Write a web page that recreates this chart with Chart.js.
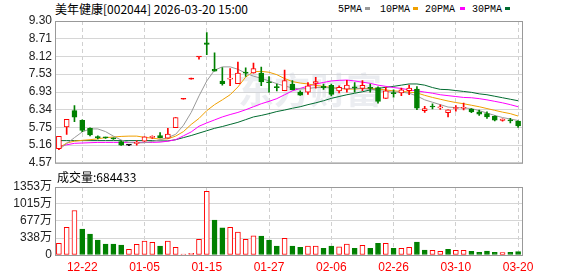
<!DOCTYPE html>
<html>
<head>
<meta charset="utf-8">
<script src="https://cdn.jsdelivr.net/npm/chart.js@4.4.1/dist/chart.umd.min.js"></script>
<style>
  body { margin: 0; background: #fff; width: 578px; height: 276px; position: relative; overflow: hidden; }
  canvas { position: absolute; left: 0; }
  #kline { top: 0; }
  #vol { top: 168px; }
  .txt { position: absolute; font-family: "Noto Sans CJK SC", sans-serif; font-size: 12px; line-height: 14px; color: #000; white-space: nowrap; }
  #title { left: 55px; top: 2px; }
  #volTitle { left: 57px; top: 170px; }
  .lg { position: absolute; top: 4px; font: 10px "Liberation Mono", monospace; line-height: 12px; color: #000; }
  .sw { position: absolute; top: 7px; width: 5px; height: 3px; }
</style>
</head>
<body>
<div id="title" class="txt">美年健康[002044] 2026-03-20 15:00</div>
<span class="lg" style="left:338px">5PMA</span><span class="sw" style="left:365px;background:#999999"></span>
<span class="lg" style="left:380px">10PMA</span><span class="sw" style="left:413px;background:#f0a000"></span>
<span class="lg" style="left:425px">20PMA</span><span class="sw" style="left:460px;background:#ff00ff"></span>
<span class="lg" style="left:472px">30PMA</span><span class="sw" style="left:505px;background:#006b30"></span>
<canvas id="kline" width="578" height="173"></canvas>
<div id="volTitle" class="txt">成交量:684433</div>
<canvas id="vol" width="578" height="108"></canvas>
<script>
// trading days shown on the chart
const dates = [
  '12-17','12-18','12-19','12-22','12-23','12-24','12-25','12-26','12-29','12-30','12-31',
  '01-05','01-06','01-07','01-08','01-09','01-12','01-13','01-14','01-15','01-16',
  '01-19','01-20','01-21','01-22','01-23','01-26','01-27','01-28','01-29','01-30',
  '02-02','02-03','02-04','02-05','02-06','02-09','02-10','02-11','02-12','02-13',
  '02-24','02-25','02-26','02-27',
  '03-02','03-03','03-04','03-05','03-06','03-09','03-10','03-11','03-12','03-13',
  '03-16','03-17','03-18','03-19','03-20'
];
const shownDates = ['12-22', '01-05', '01-15', '01-27', '02-06', '02-26', '03-10', '03-20'];

const openP = [
  5.04, 5.77, 6.31, 5.99, 5.72, 5.42, 5.41, 5.38, 5.28, 5.16,
  5.22, 5.29, 5.42, 5.48, 5.39, 5.74, 6.69, 7.36, 8.10, 8.57,
  7.69, 7.30, 7.36, 7.21, 7.58, 7.57, 7.56, 7.26, 7.10, 6.98,
  7.20, 6.93, 6.93, 7.22, 7.12, 7.15, 6.97, 7.03, 7.10, 7.05,
  7.08, 7.08, 6.72, 6.90, 6.90, 6.98, 7.03, 6.31, 6.46, 6.40,
  6.24, 6.38, 6.39, 6.35, 6.27, 6.21, 6.12, 5.98, 6.00, 5.96
];
const highP = [
  5.45, 6.02, 6.48, 6.00, 5.74, 5.47, 5.43, 5.40, 5.30, 5.17,
  5.30, 5.44, 5.47, 5.58, 5.72, 6.08, 6.69, 7.36, 8.10, 8.91,
  8.24, 7.75, 7.71, 7.93, 7.74, 7.90, 7.76, 7.45, 7.20, 7.66,
  7.31, 6.97, 7.25, 7.42, 7.20, 7.20, 7.14, 7.32, 7.25, 7.31,
  7.20, 7.10, 7.09, 7.00, 7.06, 7.16, 7.11, 6.45, 6.54, 6.50,
  6.34, 6.48, 6.56, 6.38, 6.33, 6.27, 6.14, 6.04, 6.05, 5.97
];
const lowP = [
  5.01, 5.52, 5.94, 5.61, 5.47, 5.37, 5.38, 5.35, 5.15, 5.14,
  5.16, 5.28, 5.38, 5.40, 5.39, 5.74, 6.69, 7.36, 8.03, 8.18,
  7.63, 7.16, 7.14, 7.21, 7.45, 7.56, 7.14, 6.93, 6.97, 6.98,
  7.00, 6.82, 6.85, 7.06, 7.02, 6.80, 6.90, 6.93, 6.93, 6.98,
  6.93, 6.56, 6.72, 6.76, 6.81, 6.84, 6.34, 6.25, 6.37, 6.35,
  6.10, 6.29, 6.33, 6.24, 6.15, 6.05, 5.97, 5.96, 5.90, 5.75
];
const closeP = [
  5.45, 6.02, 6.09, 5.65, 5.50, 5.41, 5.40, 5.37, 5.16, 5.16,
  5.24, 5.44, 5.45, 5.41, 5.53, 6.08, 6.69, 7.36, 8.10, 8.52,
  7.63, 7.21, 7.40, 7.56, 7.56, 7.71, 7.27, 7.24, 7.08, 7.31,
  7.01, 6.83, 7.14, 7.28, 7.08, 6.85, 7.09, 7.16, 7.07, 7.15,
  7.05, 6.62, 6.97, 6.88, 7.00, 7.06, 6.39, 6.38, 6.43, 6.43,
  6.34, 6.40, 6.40, 6.27, 6.19, 6.10, 5.99, 6.03, 5.97, 5.80
];
// volume in 万
const volume = [
  232, 549, 885, 515, 416, 297, 218, 218, 198, 113,
  211, 277, 251, 178, 277, 152, 20, 33, 311, 1268,
  693, 541, 549, 456, 311, 383, 376, 297, 178, 330,
  178, 152, 178, 178, 133, 178, 165, 218, 133, 192,
  133, 232, 232, 133, 133, 152, 258, 99, 93, 73,
  113, 93, 93, 73, 53, 79, 53, 46, 53, 68.4
];
const ma5 = [
  5.01, 5.21, 5.41, 5.60, 5.70, 5.70, 5.61, 5.46, 5.33, 5.25,
  5.23, 5.24, 5.28, 5.34, 5.41, 5.52, 5.82, 6.25, 6.80, 7.30,
  7.66, 7.77, 7.77, 7.69, 7.56, 7.46, 7.39, 7.30, 7.21, 7.13,
  7.07, 7.03, 7.05, 7.08, 7.08, 7.07, 7.05, 7.05, 7.05, 7.05,
  7.02, 6.98, 6.95, 6.93, 6.93, 6.89, 6.80, 6.67, 6.59, 6.51,
  6.43, 6.41, 6.40, 6.38, 6.31, 6.23, 6.15, 6.08, 6.03, 5.98
];
const ma10 = [
  5.06, 5.23, 5.29, 5.32, 5.34, 5.37, 5.41, 5.43, 5.45, 5.46,
  5.46, 5.42, 5.39, 5.36, 5.37, 5.46, 5.61, 5.85, 6.05, 6.31,
  6.51, 6.67, 6.84, 7.10, 7.43, 7.61, 7.62, 7.59, 7.51, 7.38,
  7.28, 7.23, 7.20, 7.15, 7.12, 7.08, 7.05, 7.03, 7.03, 7.05,
  7.05, 7.03, 7.00, 6.97, 6.95, 6.93, 6.90, 6.82, 6.75, 6.69,
  6.63, 6.58, 6.54, 6.49, 6.44, 6.38, 6.32, 6.26, 6.21, 6.13
];
const ma20 = [
  5.12, 5.17, 5.22, 5.23, 5.24, 5.25, 5.25, 5.25, 5.25, 5.25,
  5.25, 5.25, 5.25, 5.26, 5.29, 5.34, 5.47, 5.60, 5.79, 5.90,
  6.00, 6.10, 6.18, 6.25, 6.34, 6.44, 6.54, 6.62, 6.71, 6.84,
  6.97, 7.05, 7.13, 7.20, 7.25, 7.30, 7.32, 7.33, 7.30, 7.26,
  7.22, 7.16, 7.12, 7.08, 7.05, 7.00, 6.97, 6.93, 6.89, 6.84,
  6.81, 6.78, 6.75, 6.74, 6.71, 6.67, 6.62, 6.57, 6.51, 6.44
];
const ma30 = [
  5.31, 5.31, 5.31, 5.31, 5.31, 5.31, 5.31, 5.31, 5.31, 5.31,
  5.31, 5.31, 5.31, 5.30, 5.30, 5.34, 5.41, 5.48, 5.56, 5.64,
  5.72, 5.78, 5.85, 5.92, 6.01, 6.10, 6.15, 6.21, 6.28, 6.33,
  6.39, 6.44, 6.51, 6.57, 6.64, 6.72, 6.78, 6.84, 6.89, 6.94,
  7.00, 7.05, 7.09, 7.12, 7.16, 7.20, 7.20, 7.16, 7.08, 7.02,
  7.01, 6.98, 6.95, 6.92, 6.87, 6.84, 6.79, 6.74, 6.69, 6.64
];
const priceTicks = [4.57, 5.16, 5.75, 6.34, 6.93, 7.53, 8.12, 8.71, 9.30];
const volTicks = [0, 338, 677, 1015, 1353];

const RED = '#ff0000';
const GREEN = '#008000';

function candleColor(i) {
  if (closeP[i] > openP[i]) return RED;
  if (closeP[i] < openP[i]) return GREEN;
  const prev = i > 0 ? closeP[i - 1] : openP[i];
  if (closeP[i] > prev) return RED;
  if (closeP[i] < prev) return GREEN;
  return '#000000';
}
function bodyFill(i) {
  return closeP[i] > openP[i] ? '#ffffff' : candleColor(i);
}
function volColor(i) {
  return i === 0 || closeP[i] >= closeP[i - 1] ? RED : GREEN;
}

const dateGrid = c => shownDates.includes(dates[c.index]) ? '#d0d0d0' : 'rgba(0,0,0,0)';

// grey box round the plot area
const frame = {
  id: 'frame',
  beforeDatasetsDraw(chart) {
    const { ctx, chartArea: a } = chart;
    ctx.save();
    ctx.strokeStyle = '#999999';
    ctx.lineWidth = 1;
    ctx.strokeRect(a.left + 0.5, a.top + 0.5, a.right - a.left, a.bottom - a.top);
    ctx.restore();
  }
};

const watermark = {
  id: 'watermark',
  beforeDatasetsDraw(chart) {
    const ctx = chart.ctx;
    ctx.save();
    ctx.fillStyle = 'rgba(205,210,220,0.4)';
    ctx.font = 'bold 36px "Noto Sans CJK SC"';
    ctx.textAlign = 'center';
    ctx.textBaseline = 'middle';
    ctx.fillText('东方财富', 310, 90);
    ctx.restore();
  }
};

const maLine = (label, data, color) => ({
  type: 'line',
  label: label,
  data: data,
  borderColor: color,
  borderWidth: 1,
  pointRadius: 0,
  tension: 0,
  order: 3
});

new Chart(document.getElementById('kline'), {
  type: 'bar',
  data: {
    labels: dates,
    datasets: [
      maLine('MA5', ma5, '#999999'),
      maLine('MA10', ma10, '#f0a000'),
      maLine('MA20', ma20, '#ff00ff'),
      maLine('MA30', ma30, '#006b30'),
      {
        label: 'wick',
        data: dates.map((d, i) => [lowP[i], highP[i]]),
        backgroundColor: c => candleColor(c.dataIndex),
        barThickness: 1,
        minBarLength: 1,
        grouped: false,
        order: 2
      },
      {
        label: 'body',
        data: dates.map((d, i) => [openP[i], closeP[i]]),
        backgroundColor: c => bodyFill(c.dataIndex),
        borderColor: c => candleColor(c.dataIndex),
        borderWidth: 1,
        borderSkipped: false,
        barThickness: 5,
        minBarLength: 1,
        grouped: false,
        order: 1
      }
    ]
  },
  options: {
    responsive: false,
    animation: false,
    layout: { padding: { left: 0, top: 21, right: 56, bottom: 8 } },
    plugins: { legend: { display: false }, tooltip: { enabled: false } },
    scales: {
      x: {
        offset: true,
        grid: { offset: false, drawTicks: false, color: dateGrid },
        border: { display: false, dash: [4, 3] },
        ticks: { display: false },
        afterFit: s => { s.height = 0; }
      },
      y: {
        min: 4.57,
        max: 9.30,
        afterBuildTicks: s => { s.ticks = priceTicks.map(v => ({ value: v })); },
        afterFit: s => { s.width = 55; },
        grid: { color: '#d6d6d6', drawTicks: false },
        border: { display: false },
        ticks: {
          autoSkip: false,
          padding: 3,
          color: '#222',
          font: { family: 'Liberation Sans', size: 12 },
          callback: v => v.toFixed(2)
        }
      }
    }
  },
  plugins: [frame, watermark]
});

new Chart(document.getElementById('vol'), {
  type: 'bar',
  data: {
    labels: dates,
    datasets: [{
      label: '成交量',
      data: volume,
      backgroundColor: c => volColor(c.dataIndex) === RED ? '#ffffff' : GREEN,
      borderColor: c => volColor(c.dataIndex),
      borderWidth: 1,
      borderSkipped: false,
      barThickness: 5
    }]
  },
  options: {
    responsive: false,
    animation: false,
    layout: { padding: { left: 0, top: 19, right: 56, bottom: 0 } },
    plugins: { legend: { display: false }, tooltip: { enabled: false } },
    scales: {
      x: {
        offset: true,
        grid: { offset: false, drawTicks: false, color: dateGrid },
        border: { display: false, dash: [4, 3] },
        ticks: {
          autoSkip: false,
          maxRotation: 0,
          padding: 5,
          color: RED,
          font: { family: 'Liberation Sans', size: 12 },
          callback: (v, i) => shownDates.includes(dates[i]) ? dates[i] : ''
        },
        afterFit: s => { s.height = 21; }
      },
      y: {
        min: 0,
        max: 1353,
        afterBuildTicks: s => { s.ticks = volTicks.map(v => ({ value: v })); },
        afterFit: s => { s.width = 55; },
        grid: { color: '#d6d6d6', drawTicks: false },
        border: { display: false },
        ticks: {
          autoSkip: false,
          padding: 3,
          color: '#222',
          font: { family: 'Liberation Sans, Noto Sans CJK SC', size: 12 },
          callback: v => v === 0 ? '0' : v + '万'
        }
      }
    }
  },
  plugins: [frame]
});
</script>
</body>
</html>
